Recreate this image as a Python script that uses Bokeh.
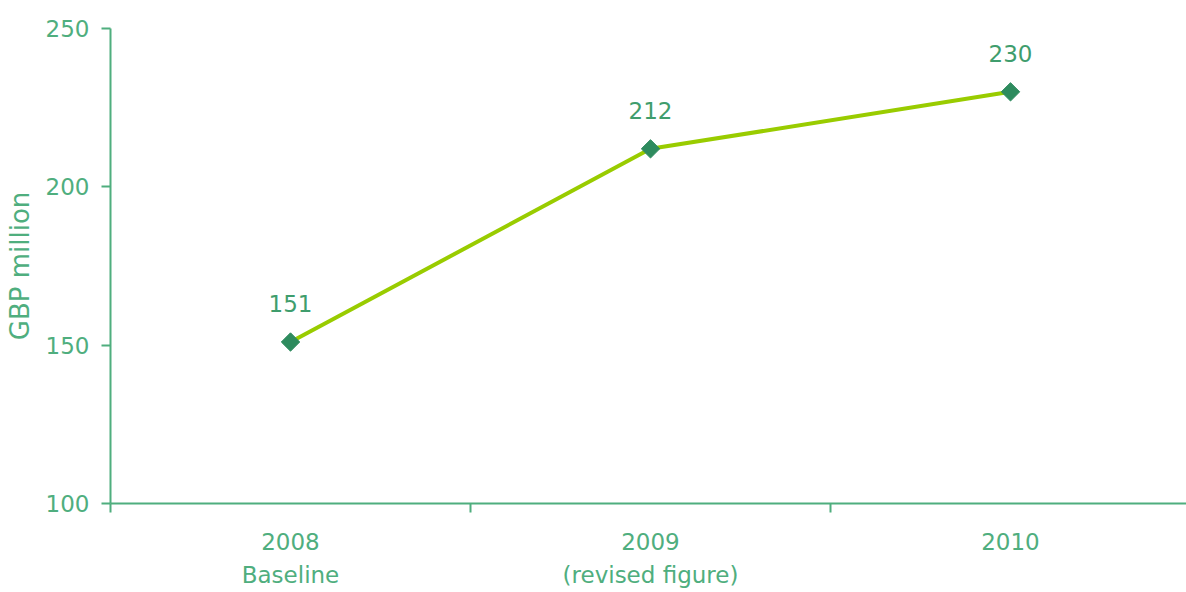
import math
from bokeh.plotting import figure
from bokeh.models import FixedTicker, Range1d, ColumnDataSource
from bokeh.embed import file_html
from bokeh.resources import INLINE
from bokeh.core.properties import value

categories = ["2008\nBaseline", "2009\n(revised figure)", "2010"]
values = [151, 212, 230]
y_ticks = [100, 150, 200, 250]

AXIS = "#4fae7e"
TEXT = "#3f9d6d"
MARK = "#2e8b5e"
LINE = "#99cc00"
FONT = "DejaVu Sans"

xs = list(range(len(categories)))
src = ColumnDataSource(dict(x=xs, y=values, lab=[str(v) for v in values]))

p = figure(width=1186, height=592, output_backend="svg", toolbar_location=None,
           x_range=Range1d(-0.5, -0.5 + 1076 / 360), y_range=Range1d(100, 250),
           min_border_left=110, min_border_right=0, min_border_top=28, min_border_bottom=89)
p.outline_line_color = None
p.grid.grid_line_color = None
p.background_fill_color = "white"

p.line("x", "y", source=src, line_color=LINE, line_width=4)
p.scatter("x", "y", source=src, marker="square", angle=math.pi / 4, size=13,
          fill_color=MARK, line_color=MARK)
p.text("x", "y", text="lab", source=src, text_align="center", text_baseline="bottom",
       y_offset=-30, text_color=TEXT, text_font=value(FONT), text_font_size="23px")

xa = p.xaxis[0]
xa.ticker = FixedTicker(ticks=xs, minor_ticks=[-0.5, 0.5, 1.5, 2.5])
xa.major_label_overrides = {i: c for i, c in enumerate(categories)}
xa.major_tick_out = 0
xa.major_tick_in = 0
xa.minor_tick_out = 9
xa.minor_tick_in = 0
xa.minor_tick_line_color = AXIS
xa.minor_tick_line_width = 2
xa.axis_line_color = AXIS
xa.axis_line_width = 2
xa.major_label_text_color = AXIS
xa.major_label_text_font = FONT
xa.major_label_text_font_size = "23px"
xa.major_label_text_line_height = 1.3
xa.major_label_standoff = 16

ya = p.yaxis[0]
ya.ticker = FixedTicker(ticks=y_ticks)
ya.major_tick_out = 9
ya.major_tick_in = 0
ya.minor_tick_out = 0
ya.minor_tick_in = 0
ya.major_tick_line_color = AXIS
ya.major_tick_line_width = 2
ya.axis_line_color = AXIS
ya.axis_line_width = 2
ya.major_label_text_color = AXIS
ya.major_label_text_font = FONT
ya.major_label_text_font_size = "23px"
ya.major_label_standoff = 12
ya.axis_label = "GBP million"
ya.axis_label_text_color = AXIS
ya.axis_label_text_font = FONT
ya.axis_label_text_font_size = "26px"
ya.axis_label_text_font_style = "normal"
ya.axis_label_standoff = 8

open("out.html", "w").write(file_html(p, INLINE))
